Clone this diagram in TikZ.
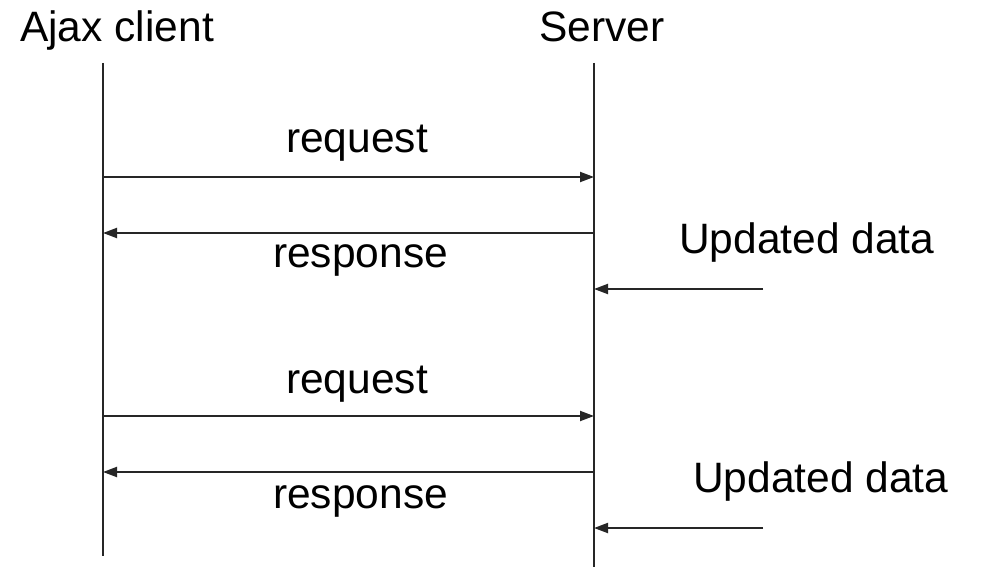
\documentclass[tikz,border=0pt]{standalone}
\usepackage{fontspec}
\setmainfont{Liberation Sans}
\usetikzlibrary{arrows.meta}
\begin{document}
\begin{tikzpicture}[x=1pt,y=-1pt,
  lbl/.style={anchor=base west,inner sep=0pt,font=\fontsize{42.5}{42.5}\selectfont},
  life/.style={line width=2pt,black!85},
  msg/.style={line width=2pt,black!85,-{Triangle[length=14pt,width=10pt]}}]
\useasboundingbox (0,0) rectangle (990,567);
\fill[white] (0,0) rectangle (990,567);
% headers
\node[lbl] (ajax) at (20,42) {Ajax client};
\node[lbl] (srv) at (539,42) {Server};
% lifelines
\coordinate (ctop) at (103,63);
\coordinate (cbot) at (103,556);
\coordinate (stop) at (594,63);
\coordinate (sbot) at (594,567);
\draw[life] (ctop) -- (cbot);
\draw[life] (stop) -- (sbot);
% message points
\coordinate (c1) at (103,177); \coordinate (s1) at (594,177);
\coordinate (c2) at (103,233); \coordinate (s2) at (594,233);
\coordinate (u1) at (763,289); \coordinate (s3) at (594,289);
\coordinate (c4) at (103,416); \coordinate (s4) at (594,416);
\coordinate (c5) at (103,472); \coordinate (s5) at (594,472);
\coordinate (u2) at (763,528); \coordinate (s6) at (594,528);
\draw[msg] (c1) -- (s1);
\draw[msg] (s2) -- (c2);
\draw[msg] (u1) -- (s3);
\draw[msg] (c4) -- (s4);
\draw[msg] (s5) -- (c5);
\draw[msg] (u2) -- (s6);
% labels
\node[lbl] (req1) at (286,153) {request};
\node[lbl] (resp1) at (273,267) {response};
\node[lbl] (upd1) at (679,253) {Updated data};
\node[lbl] (req2) at (286,393) {request};
\node[lbl] (resp2) at (273,508) {response};
\node[lbl] (upd2) at (693,492) {Updated data};
\end{tikzpicture}
\end{document}
